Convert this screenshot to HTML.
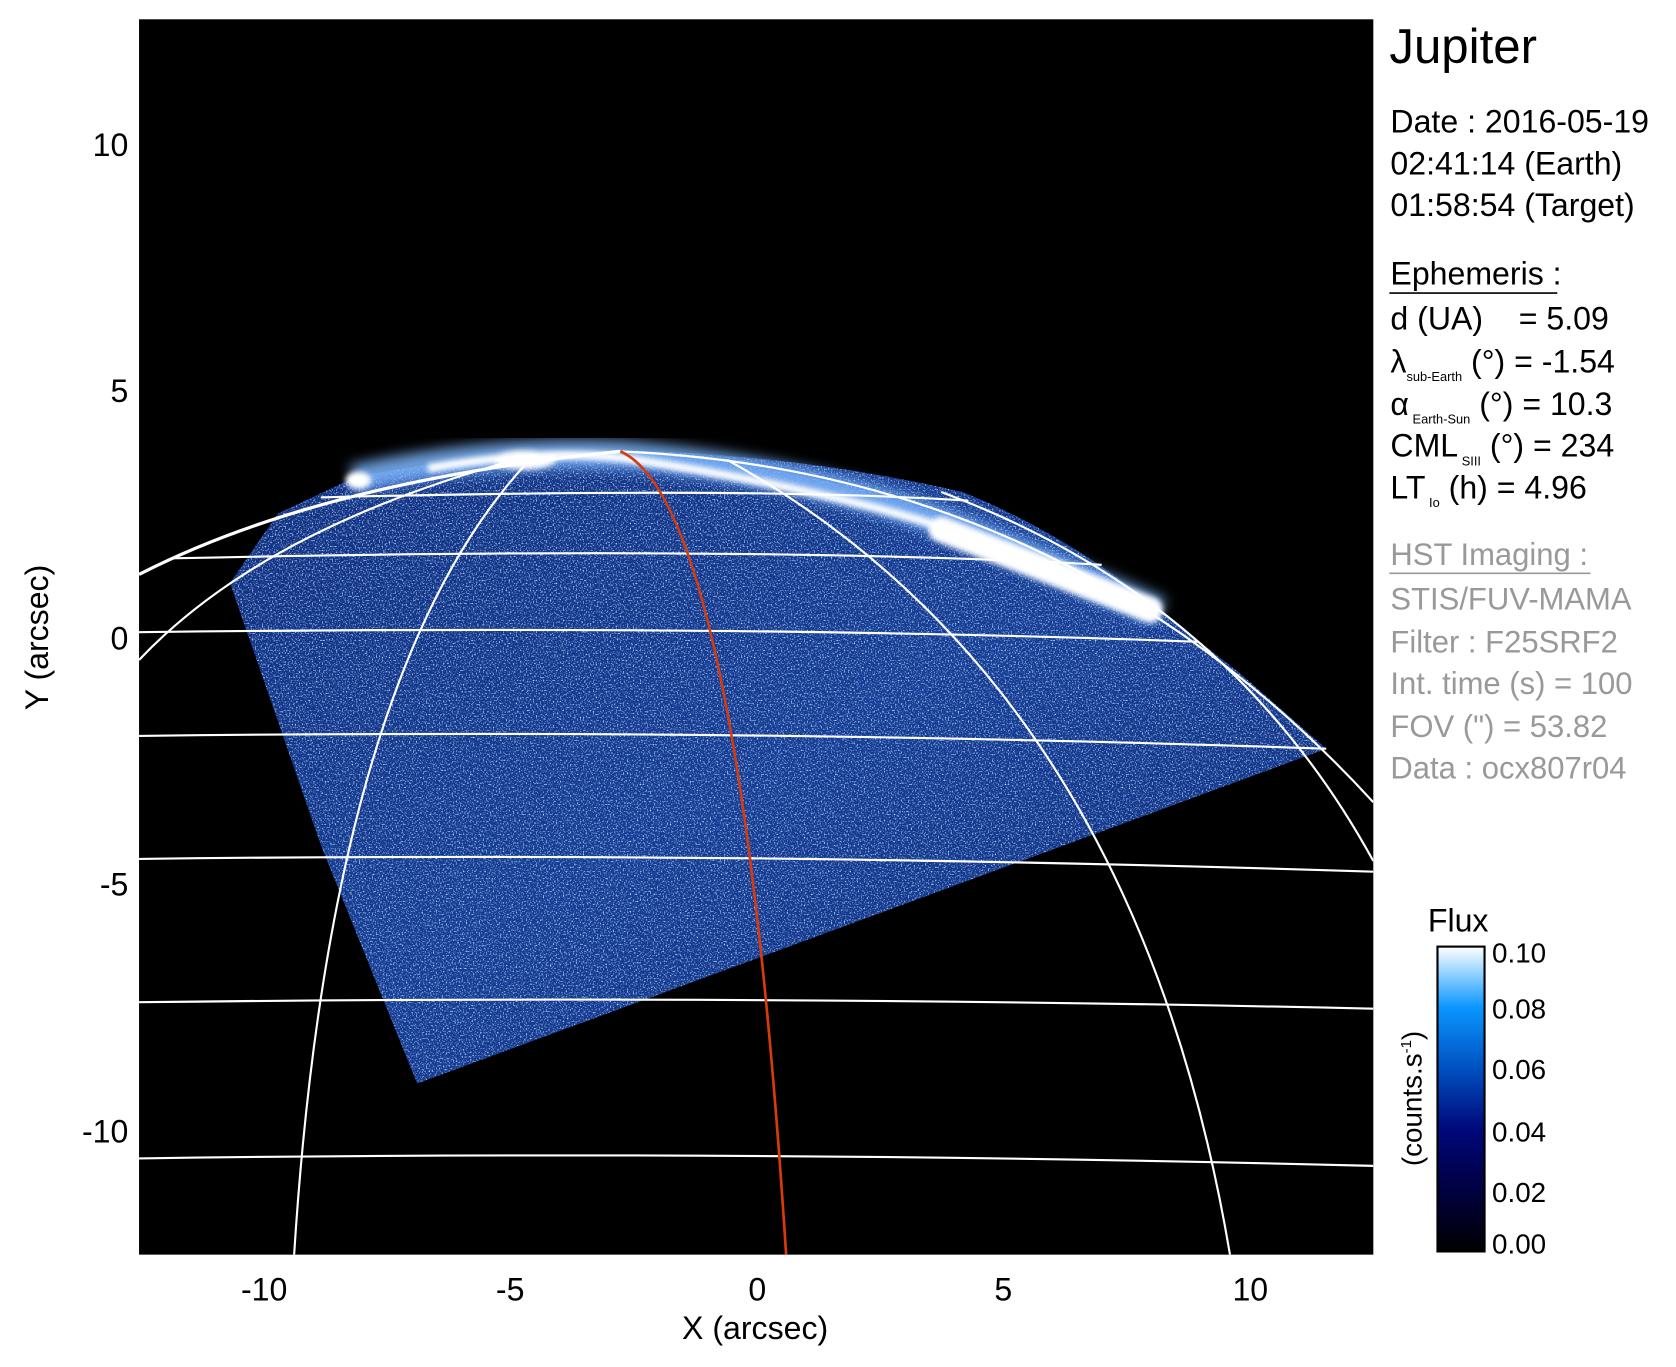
<!DOCTYPE html>
<html><head><meta charset="utf-8"><style>
html,body{margin:0;padding:0;background:#fff;}
svg{display:block;}
text{font-family:"Liberation Sans",Arial,sans-serif;}
</style></head><body>
<svg width="1676" height="1367" viewBox="0 0 1567 1278" xmlns="http://www.w3.org/2000/svg">
<defs>
<clipPath id="pc"><rect x="130" y="18" width="1154" height="1155"/></clipPath>
<clipPath id="bc"><path d="M215,545 L300,790 L390,1013 L1240,700 L1160,630 L1090,575 Q1000,500 900,460 Q750,425 580,421 Q430,425 330,447 L260,480 Z"/></clipPath>
<linearGradient id="bg" x1="0" y1="0" x2="1" y2="1">
<stop offset="0" stop-color="#0c2a7a"/><stop offset="0.5" stop-color="#123c98"/><stop offset="1" stop-color="#0b2775"/>
</linearGradient>
<linearGradient id="cb" x1="0" y1="1" x2="0" y2="0">
<stop offset="0" stop-color="#000"/><stop offset="0.2" stop-color="#000040"/><stop offset="0.4" stop-color="#00087a"/><stop offset="0.6" stop-color="#0050c0"/><stop offset="0.8" stop-color="#0a96ff"/><stop offset="1" stop-color="#ffffff"/>
</linearGradient>
<filter id="nz" x="0" y="0" width="100%" height="100%">
<feTurbulence type="fractalNoise" baseFrequency="0.75" numOctaves="1" seed="3"/>
<feColorMatrix type="matrix" values="0 0 0 0 0.45  0 0 0 0 0.72  0 0 0 0 1  0 0 0 4 -2.1"/>
</filter>
<filter id="nz2" x="0" y="0" width="100%" height="100%">
<feTurbulence type="fractalNoise" baseFrequency="0.6" numOctaves="1" seed="9"/>
<feColorMatrix type="matrix" values="0 0 0 0 0.02  0 0 0 0 0.05  0 0 0 0 0.25  0 0 0 4 -1.9"/>
</filter>
<filter id="bl"><feGaussianBlur stdDeviation="6"/></filter>
<filter id="bl2"><feGaussianBlur stdDeviation="2.5"/></filter>
</defs>
<rect x="130" y="18" width="1154" height="1155" fill="#000"/>
<g clip-path="url(#pc)">
<g clip-path="url(#bc)">
<rect x="130" y="400" width="1154" height="650" fill="url(#bg)"/>
<rect x="130" y="400" width="1154" height="650" filter="url(#nz2)"/>
<rect x="130" y="400" width="1154" height="650" filter="url(#nz)"/>
</g>
<g filter="url(#bl)" opacity="0.85">
<path d="M330,448 Q450,420 580,425 Q760,440 900,495 Q1000,535 1085,572" fill="none" stroke="#7fb8ff" stroke-width="26"/>
</g>
<g filter="url(#bl2)">
<path d="M400,438 Q500,420 580,428 Q700,445 820,475 Q930,505 1000,535" fill="none" stroke="#ffffff" stroke-width="8"/>
<path d="M880,495 Q960,525 1075,570" fill="none" stroke="#ffffff" stroke-width="24" stroke-linecap="round"/>
<ellipse cx="335" cy="449" rx="12" ry="8" fill="#fff"/>
<ellipse cx="490" cy="430" rx="30" ry="9" fill="#fff"/>
</g>
<g fill="none" stroke="#fff" stroke-width="2">
<path d="M130,1083 Q700,1075 1284,1090"/>
<path d="M130,937 Q700,930 1284,943"/>
<path d="M130,803 Q700,796 1284,815"/>
<path d="M130,688 Q700,681 1240,700"/>
<path d="M130,591 Q700,584 1120,600"/>
<path d="M160,522 Q700,510 1030,528"/>
<path d="M300,465 Q700,455 905,468"/>
<path d="M130,617 Q250,490 500,425"/>
<path d="M130,537 Q300,450 580,422" stroke-width="3"/>
<path d="M500,425 Q310,620 275,1173"/>
<path d="M680,430 Q1060,640 1150,1173"/>
<path d="M880,460 Q1150,560 1284,805"/>
<path d="M580,422 Q1000,440 1284,750"/>
</g>
<path d="M580,422 Q690,470 735,1173" fill="none" stroke="#d83a0a" stroke-width="2.5"/>
</g>
<g font-size="30" fill="#000" text-anchor="middle">
<text x="247" y="1216">-10</text><text x="477" y="1216">-5</text><text x="708" y="1216">0</text><text x="938" y="1216">5</text><text x="1169" y="1216">10</text>
<text x="706" y="1252">X (arcsec)</text>
</g>
<g font-size="30" fill="#000" text-anchor="end">
<text x="120" y="146">10</text><text x="120" y="376">5</text><text x="120" y="607">0</text><text x="120" y="837">-5</text><text x="120" y="1068">-10</text>
</g>
<text transform="translate(45,596) rotate(-90)" font-size="30" text-anchor="middle">Y (arcsec)</text>
<text x="1299" y="59" font-size="46">Jupiter</text>
<g font-size="30">
<text x="1300" y="124">Date : 2016-05-19</text>
<text x="1300" y="163">02:41:14 (Earth)</text>
<text x="1300" y="202">01:58:54 (Target)</text>
<text x="1300" y="266">Ephemeris :</text>
<text x="1300" y="308" xml:space="preserve">d (UA)    = 5.09</text>
<text x="1300" y="348">λ<tspan font-size="12" dy="8">sub-Earth</tspan><tspan dy="-8"> (°) = -1.54</tspan></text>
<text x="1300" y="388">α<tspan font-size="12" dy="8"> Earth-Sun</tspan><tspan dy="-8"> (°) = 10.3</tspan></text>
<text x="1300" y="427">CML<tspan font-size="12" dy="8"> SIII</tspan><tspan dy="-8"> (°) = 234</tspan></text>
<text x="1300" y="466">LT<tspan font-size="12" dy="8"> Io</tspan><tspan dy="-8"> (h) = 4.96</tspan></text>
</g>
<line x1="1299" y1="274" x2="1456" y2="274" stroke="#000" stroke-width="1.5"/>
<g font-size="29" fill="#999">
<text x="1300" y="528">HST Imaging :</text>
<text x="1300" y="570">STIS/FUV-MAMA</text>
<text x="1300" y="610">Filter : F25SRF2</text>
<text x="1300" y="649">Int. time (s) = 100</text>
<text x="1300" y="689">FOV (") = 53.82</text>
<text x="1300" y="728">Data : ocx807r04</text>
</g>
<line x1="1299" y1="536" x2="1487" y2="536" stroke="#999" stroke-width="1.5"/>
<text x="1335" y="871" font-size="30">Flux</text>
<rect x="1344" y="885" width="44" height="285" fill="url(#cb)" stroke="#000" stroke-width="2"/>
<g font-size="26">
<text x="1395" y="900">0.10</text><text x="1395" y="952">0.08</text><text x="1395" y="1009">0.06</text><text x="1395" y="1067">0.04</text><text x="1395" y="1124">0.02</text><text x="1395" y="1172">0.00</text>
</g>
<text transform="translate(1329,1027) rotate(-90)" font-size="26" text-anchor="middle">(counts.s<tspan font-size="14" dy="-10">-1</tspan><tspan dy="10">)</tspan></text>
</svg>
</body></html>
